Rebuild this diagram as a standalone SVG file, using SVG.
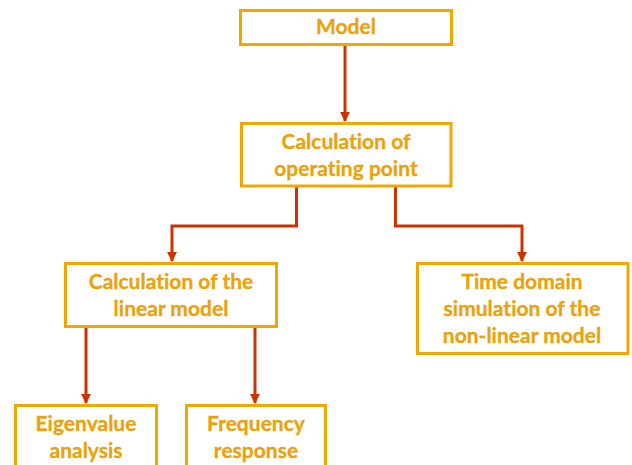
<svg xmlns="http://www.w3.org/2000/svg" width="632" height="465" viewBox="0 0 632 465">
<style>
.box{fill:#fff;stroke:#F0A800;stroke-width:3}
.t{font-family:Lato,"Open Sans","Liberation Sans",sans-serif;font-weight:bold;font-size:21px;fill:#EBA20A;text-anchor:middle;font-variant-ligatures:none;stroke:#EBA20A;stroke-width:0.3}
.c{fill:none;stroke:#CC3300;stroke-width:3}
</style>
<defs>
<marker id="ah" viewBox="0 0 10 10" refX="9" refY="5" markerWidth="3.3" markerHeight="3.3" orient="auto" markerUnits="strokeWidth">
<path d="M0,0 L10,5 L0,10 z" fill="#CC3300"/>
</marker>
</defs>
<rect width="632" height="465" fill="#fff"/>
<g id="connectors">
<path class="c" d="M345,45 V121" marker-end="url(#ah)"/>
<path class="c" d="M296.5,186 V226 H172 V261" marker-end="url(#ah)"/>
<path class="c" d="M395.5,186 V226 H522 V261" marker-end="url(#ah)"/>
<path class="c" d="M86,326 V403" marker-end="url(#ah)"/>
<path class="c" d="M255,326 V403" marker-end="url(#ah)"/>
</g>
<g id="model">
<rect class="box" x="240.5" y="10.5" width="211" height="34"/>
<text class="t" x="346" y="34">Model</text>
</g>
<g id="operating">
<rect class="box" x="241.5" y="123.5" width="209.5" height="62.5"/>
<text class="t" x="346" y="149">Calculation of</text>
<text class="t" x="346" y="176">operating point</text>
</g>
<g id="linear">
<rect class="box" x="65.5" y="263.5" width="211" height="63"/>
<text class="t" x="171" y="289">Calculation of the</text>
<text class="t" x="171" y="316">linear model</text>
</g>
<g id="timedomain">
<rect class="box" x="417.5" y="263.5" width="210.5" height="90"/>
<text class="t" x="522" y="289">Time domain</text>
<text class="t" x="522" y="316">simulation of the</text>
<text class="t" x="522" y="343">non-linear model</text>
</g>
<g id="eigen">
<rect class="box" x="15.5" y="405.5" width="141" height="80"/>
<text class="t" x="86" y="431">Eigenvalue</text>
<text class="t" x="86" y="458">analysis</text>
</g>
<g id="freq">
<rect class="box" x="186.5" y="405.5" width="139" height="80"/>
<text class="t" x="256" y="431">Frequency</text>
<text class="t" x="256" y="458">response</text>
</g>
</svg>
